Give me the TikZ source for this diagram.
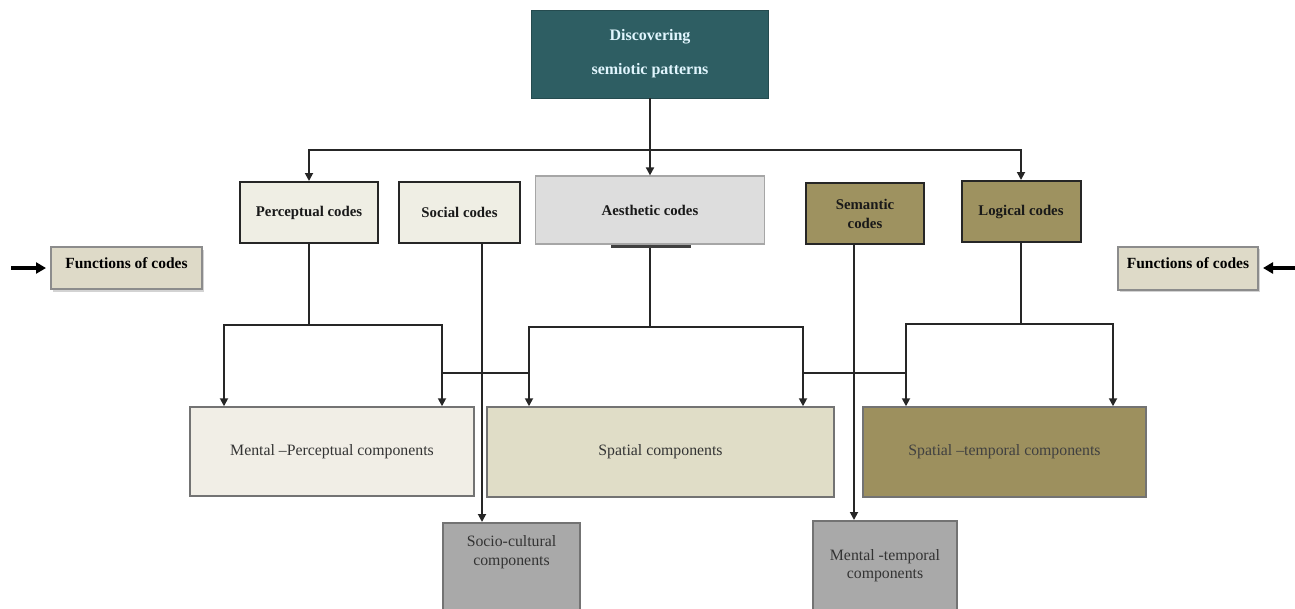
\documentclass[tikz,border=0pt]{standalone}
\usepackage{fontspec}
\setmainfont{Liberation Serif}
\usetikzlibrary{arrows.meta,shadows}

\definecolor{topteal}{RGB}{46,94,99}
\definecolor{codepaper}{RGB}{239,238,228}
\definecolor{aesgray}{RGB}{221,221,221}
\definecolor{olivecode}{RGB}{158,146,96}
\definecolor{funcpaper}{RGB}{222,218,200}
\definecolor{mpfill}{RGB}{241,238,230}
\definecolor{spafill}{RGB}{224,221,199}
\definecolor{sptfill}{RGB}{157,144,94}
\definecolor{compgray}{RGB}{169,169,169}

\begin{document}
\begin{tikzpicture}[x=1pt,y=-1pt,
  box/.style={draw, rectangle, inner sep=0pt, align=center},
  codebox/.style={box, draw=black!85, line width=2pt, text=black!90, font=\fontsize{14.8}{19}\selectfont\bfseries},
  compbox/.style={box, draw=black!55, line width=1.5pt},
  comptext/.style={align=center, text=black!80, font=\fontsize{15.8}{19}\selectfont},
  funcbox/.style={box, fill=funcpaper, draw=black!45, line width=2pt, text height=10pt, text depth=10pt,
    font=\fontsize{15.5}{19}\selectfont\bfseries, drop shadow={shadow xshift=1.5pt, shadow yshift=-2.5pt, opacity=0.35}},
  link/.style={draw=black!85, line width=1.8pt},
  arr/.style={link, -{Triangle[length=8pt,width=8pt]}},
  fnarr/.style={draw=black, line width=3.4pt, -{Triangle[length=10pt,width=11pt]}, shorten >=4pt}
]
\useasboundingbox (0,0) rectangle (1295,608);
\clip (0,0) rectangle (1295,608);

% top and code boxes
\node[box, fill=topteal, draw=topteal!80!black, minimum width=237, minimum height=88, text=white!88!cyan,
  font=\fontsize{16}{34}\selectfont\bfseries] (disc) at (650,54) {Discovering\\semiotic patterns};
\node[codebox, fill=codepaper, minimum width=138, minimum height=61] (perc) at (309,212.5) {Perceptual codes};
\node[codebox, fill=codepaper, minimum width=121, minimum height=61] (soc) at (459.5,212.5) {Social codes};
\node[codebox, fill=aesgray, draw=black!35, line width=1.2pt, minimum width=229, minimum height=68] (aes) at (650,210) {Aesthetic codes};
\node[codebox, fill=olivecode, minimum width=118, minimum height=61] (sem) at (865,213.5) {Semantic\\codes};
\node[codebox, fill=olivecode, minimum width=119, minimum height=61] (log) at (1021,211.5) {Logical codes};
\node[funcbox, minimum width=151, minimum height=42] (funl) at (126.5,268) {Functions of codes};
\node[funcbox, minimum width=140, minimum height=43] (funr) at (1188,268) {Functions of codes};

% component boxes
\node[compbox, fill=mpfill, minimum width=284, minimum height=89] (mp) at (332,451.5) {};
\node[comptext] (mptxt) at (mp.center) {Mental --Perceptual components};
\node[compbox, fill=spafill, minimum width=347, minimum height=90] (spa) at (660.5,452) {};
\node[comptext] (spatxt) at (spa.center) {Spatial components};
\node[compbox, fill=sptfill, minimum width=283, minimum height=90] (spt) at (1004.5,452) {};
\node[comptext, text=black!75] (spttxt) at (spt.center) {Spatial --temporal components};
\node[compbox, fill=compgray, minimum width=137, minimum height=110, anchor=north] (scc) at (511.5,522) {};
\node[comptext] (scctxt) at (511.5,552.5) {Socio-cultural\\components};
\node[compbox, fill=compgray, minimum width=144, minimum height=110, anchor=north] (mtc) at (885,520) {};
\node[comptext, font=\fontsize{15.8}{18}\selectfont] (mtctxt) at (885,566) {Mental -temporal\\components};

% connectors
\coordinate (hub) at (650,150);
\draw[arr] (disc.south) -- (aes.north);
\draw[arr] (hub) -| (perc.north);
\draw[arr] (hub) -| (log.north);

\coordinate (pj) at (309,325);
\draw[link] (perc.south) -- (pj);
\draw[arr] (pj) -| ([xshift=-108]mp.north);
\draw[arr] (pj) -| ([xshift=110]mp.north);

\coordinate (aj) at (650,327);
\draw[link] (aes.south) -- (aj);
\draw[arr] (aj) -| ([xshift=-131.5]spa.north);
\draw[arr] (aj) -| ([xshift=142.5]spa.north);
\draw[black!75, line width=3pt] ([xshift=-39,yshift=-1.5]aes.south) -- ([xshift=41,yshift=-1.5]aes.south);

\coordinate (lj) at (1021,324);
\draw[link] (log.south) -- (lj);
\draw[arr] (lj) -| ([xshift=-98.5]spt.north);
\draw[arr] (lj) -| ([xshift=108.5]spt.north);

\coordinate (cl) at (442,373);
\coordinate (cr) at (803,373);
\draw[link] (cl) -- ([xshift=-131.5]spa.north |- cl);
\draw[link] (cr) -- ([xshift=-98.5]spt.north |- cr);

\coordinate (sx) at (482,0);
\coordinate (mx) at (854,0);
\draw[arr] (soc.south -| sx) -- (scc.north -| sx);
\draw[arr] (sem.south -| mx) -- (mtc.north -| mx);

\coordinate (fl) at (11,268);
\coordinate (fr) at (1295,268);
\draw[fnarr] (fl) -- (funl.west);
\draw[fnarr] (fr) -- (funr.east);
\end{tikzpicture}
\end{document}
